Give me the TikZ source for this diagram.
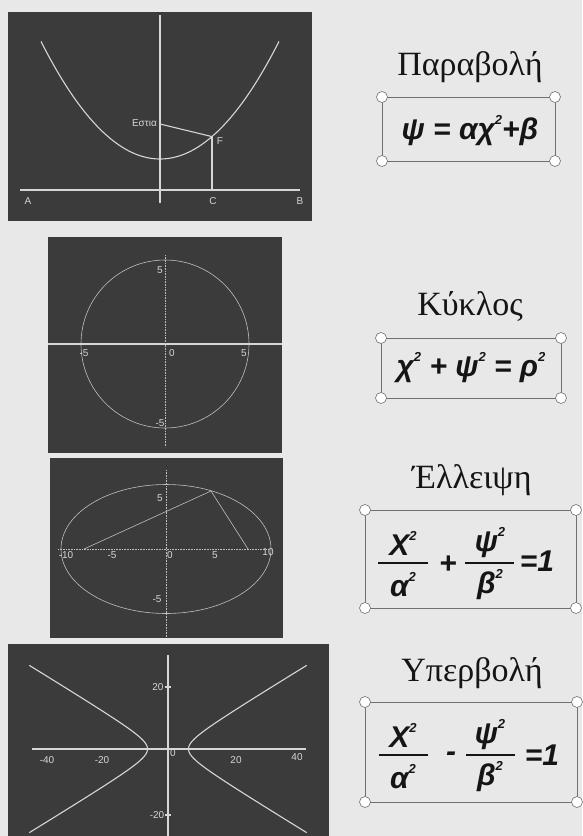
\documentclass[tikz,border=0pt]{standalone}
\usepackage{fontspec}
\setmainfont{Liberation Serif}
\newfontfamily\formulafont{Liberation Sans}
\newfontfamily\plotfont{Liberation Sans}
\definecolor{paper}{HTML}{E8E8E8}
\definecolor{screen}{HTML}{3B3B3B}
\definecolor{trace}{HTML}{D6D6D6}
\definecolor{frame}{HTML}{707070}
\definecolor{ink}{HTML}{151515}

\begin{document}
\begin{tikzpicture}[x=1pt,y=-1pt,
  screenbox/.style={fill=screen},
  trace/.style={draw=trace,line width=1.1pt},
  faint/.style={draw=trace!85!screen,line width=0.6pt},
  ticklbl/.style={text=trace,font=\plotfont\fontsize{10}{10}\selectfont,inner sep=0pt},
  title/.style={text=ink,font=\fontsize{34}{34}\selectfont,inner sep=0pt},
  formula/.style={text=ink,font=\formulafont\bfseries\itshape\fontsize{30}{30}\selectfont,inner sep=0pt},
  handle/.style={circle,draw=frame,fill=white,line width=0.6pt,minimum size=11pt,inner sep=0pt},
  fracbar/.style={draw=ink,line width=1.8pt}]
  \newcommand{\sq}{\raisebox{0.5em}{\fontsize{13}{13}\selectfont 2}}
  % corners of a formula frame, with a round handle on each corner
  \newcommand{\handlebox}[5]{%
    \draw[frame,line width=0.8pt] (#2,#3) rectangle (#4,#5);
    \node[handle] (#1-nw) at (#2,#3) {};
    \node[handle] (#1-ne) at (#4,#3) {};
    \node[handle] (#1-sw) at (#2,#5) {};
    \node[handle] (#1-se) at (#4,#5) {};
  }
  \useasboundingbox (0,0) rectangle (582,836);
  \fill[paper] (0,0) rectangle (582,836);

  % Parabola screen: focus, point F and its foot C on the directrix.
  \fill[screenbox] (8,12) rectangle (312,221);
  \draw[trace] plot[domain=-119:119,samples=80] ({160+\x},{159-0.0083*\x*\x});
  \draw[trace] (160,15) -- (160,203);
  \draw[trace] (20,190) -- (300,190);
  \coordinate (focus) at (160,124);
  \coordinate (F) at (212,136.6);
  \coordinate (C) at (212,190);
  \draw[trace] (focus) -- (F);
  \draw[trace] (F) -- (C);
  \node[ticklbl,anchor=east] (estia) at (157,123) {Εστια};
  \node[ticklbl] (F-lbl) at (220,141) {F};
  \foreach \x/\name in {28/A,213/C,300/B}
    \node[ticklbl] (lbl-\name) at (\x,201) {\name};

  % Circle screen, radius 5.
  \fill[screenbox] (48,237) rectangle (282,453);
  \draw[faint] (165,344) circle (84);
  \draw[trace] (48,344) -- (282,344);
  \draw[faint,densely dotted] (165,255) -- (165,447);
  \foreach \x/\y/\v/\n in {160/270/5/t,84/353/-5/l,172/353/0/o,244/353/5/r,160/423/-5/b}
    \node[ticklbl] (circ-\n) at (\x,\y) {\v};

  % Ellipse screen, with the two focal radii to one point.
  \fill[screenbox] (50,458) rectangle (283,638);
  \draw[faint] (166,549) ellipse [x radius=105,y radius=64.5];
  \draw[faint,densely dotted] (58,549) -- (268,549);
  \draw[faint,densely dotted] (166,470) -- (166,637);
  \coordinate (F1) at (84,549);
  \coordinate (P) at (211,491);
  \coordinate (F2) at (248,549);
  \draw[faint] (F1) -- (P) -- (F2);
  \foreach \x/\y/\v/\n in {66/555/-10/ll,112/555/-5/l,170/555/0/o,215/555/5/r,268/552/10/rr,160/498/5/t,157/599/-5/b}
    \node[ticklbl] (ell-\n) at (\x,\y) {\v};

  % Hyperbola screen.
  \fill[screenbox] (8,644) rectangle (329,836);
  \draw[trace] plot[domain=-2.6:2.6,samples=60] ({168+20.5*cosh(\x)},{749-12.5*sinh(\x)});
  \draw[trace] plot[domain=-2.6:2.6,samples=60] ({168-20.5*cosh(\x)},{749-12.5*sinh(\x)});
  \draw[trace] (32,749) -- (306,749);
  \draw[trace] (168,655) -- (168,836);
  \draw[trace] (165,687) -- (171,687);
  \draw[trace] (165,815) -- (171,815);
  \foreach \x/\y/\v/\n in {47/760/-40/ll,102/760/-20/l,173/753/0/o,236/760/20/r,297/757/40/rr,158/687/20/t,157/815/-20/b}
    \node[ticklbl] (hyp-\n) at (\x,\y) {\v};

  % Names and equations.
  \node[title] (parabola) at (470,67) {Παραβολή};
  \handlebox{pbox}{382}{97}{555}{161}
  \node[formula] (parabola-eq) at (470,131) {ψ = αχ\sq+β};

  \node[title] (circle) at (470,307) {Κύκλος};
  \handlebox{cbox}{381}{338}{561}{398}
  \node[formula] (circle-eq) at (471,368) {χ\sq{} + ψ\sq{} = ρ\sq};

  \node[title] (ellipse) at (472,480) {Έλλειψη};
  \handlebox{ebox}{365}{510}{576}{608}
  \node[formula] (ell-num1) at (403,543) {Χ\sq};
  \node[formula] (ell-den1) at (403,585) {α\sq};
  \node[formula] (ell-num2) at (490,543) {ψ\sq};
  \node[formula] (ell-den2) at (490,585) {β\sq};
  \node[formula] (ell-plus) at (448,565) {+};
  \node[formula] (ell-one) at (537,561) {=1};
  \draw[fracbar] (378,563) -- (428,563);
  \draw[fracbar] (465,563) -- (514,563);

  \node[title] (hyperbola) at (472,673) {Υπερβολή};
  \handlebox{hbox}{365}{702}{577}{802}
  \node[formula] (hyp-num1) at (403,735) {Χ\sq};
  \node[formula] (hyp-den1) at (403,777) {α\sq};
  \node[formula] (hyp-num2) at (490,735) {ψ\sq};
  \node[formula] (hyp-den2) at (490,777) {β\sq};
  \node[formula] (hyp-minus) at (451,757) {-};
  \node[formula] (hyp-one) at (542,755) {=1};
  \draw[fracbar] (379,755) -- (428,755);
  \draw[fracbar] (466,755) -- (515,755);
\end{tikzpicture}
\end{document}
